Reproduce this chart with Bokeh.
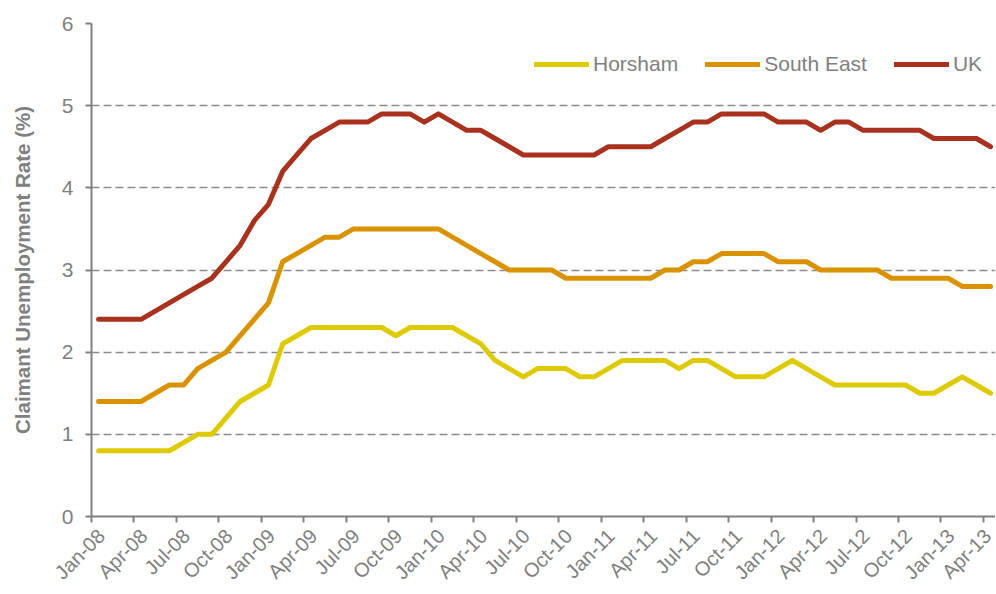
import math
from bokeh.plotting import figure
from bokeh.models import (ColumnDataSource, FixedTicker, Legend, LegendItem,
                          Range1d, LinearAxis)
from bokeh.embed import file_html
from bokeh.resources import INLINE

# ---- data (monthly, Jan-08 .. Apr-13) ----
horsham = [0.8, 0.8, 0.8, 0.8, 0.8, 0.8, 0.9, 1.0, 1.0, 1.2, 1.4, 1.5,
           1.6, 2.1, 2.2, 2.3, 2.3, 2.3, 2.3, 2.3, 2.3, 2.2, 2.3, 2.3,
           2.3, 2.3, 2.2, 2.1, 1.9, 1.8, 1.7, 1.8, 1.8, 1.8, 1.7, 1.7,
           1.8, 1.9, 1.9, 1.9, 1.9, 1.8, 1.9, 1.9, 1.8, 1.7, 1.7, 1.7,
           1.8, 1.9, 1.8, 1.7, 1.6, 1.6, 1.6, 1.6, 1.6, 1.6, 1.5, 1.5,
           1.6, 1.7, 1.6, 1.5]
south_east = [1.4, 1.4, 1.4, 1.4, 1.5, 1.6, 1.6, 1.8, 1.9, 2.0, 2.2, 2.4,
              2.6, 3.1, 3.2, 3.3, 3.4, 3.4, 3.5, 3.5, 3.5, 3.5, 3.5, 3.5,
              3.5, 3.4, 3.3, 3.2, 3.1, 3.0, 3.0, 3.0, 3.0, 2.9, 2.9, 2.9,
              2.9, 2.9, 2.9, 2.9, 3.0, 3.0, 3.1, 3.1, 3.2, 3.2, 3.2, 3.2,
              3.1, 3.1, 3.1, 3.0, 3.0, 3.0, 3.0, 3.0, 2.9, 2.9, 2.9, 2.9,
              2.9, 2.8, 2.8, 2.8]
uk = [2.4, 2.4, 2.4, 2.4, 2.5, 2.6, 2.7, 2.8, 2.9, 3.1, 3.3, 3.6,
      3.8, 4.2, 4.4, 4.6, 4.7, 4.8, 4.8, 4.8, 4.9, 4.9, 4.9, 4.8,
      4.9, 4.8, 4.7, 4.7, 4.6, 4.5, 4.4, 4.4, 4.4, 4.4, 4.4, 4.4,
      4.5, 4.5, 4.5, 4.5, 4.6, 4.7, 4.8, 4.8, 4.9, 4.9, 4.9, 4.9,
      4.8, 4.8, 4.8, 4.7, 4.8, 4.8, 4.7, 4.7, 4.7, 4.7, 4.7, 4.6,
      4.6, 4.6, 4.6, 4.5]
tick_labels = ["Jan-08", "Apr-08", "Jul-08", "Oct-08", "Jan-09", "Apr-09",
               "Jul-09", "Oct-09", "Jan-10", "Apr-10", "Jul-10", "Oct-10",
               "Jan-11", "Apr-11", "Jul-11", "Oct-11", "Jan-12", "Apr-12",
               "Jul-12", "Oct-12", "Jan-13", "Apr-13"]
series_names = ["Horsham", "South East", "UK"]
y_ticks = [0, 1, 2, 3, 4, 5, 6]

colors = ["#DECA00", "#D99200", "#A9321F"]
GRAY = "#808080"
FONT = "Liberation Sans"

n = len(uk)
x = [i + 0.5 for i in range(n)]          # points centred in each month slot
tick_pos = [3 * k for k in range(len(tick_labels))]
LABEL_SHIFT = 0.7                        # rotated labels sit just right of tick
label_pos = [t + LABEL_SHIFT for t in tick_pos]

src = ColumnDataSource(dict(x=x, horsham=horsham, south_east=south_east, uk=uk))

p = figure(width=995, height=594, output_backend="svg", toolbar_location=None,
           x_range=Range1d(0, 63.85), y_range=Range1d(0, 6),
           min_border_left=91, min_border_top=23, min_border_right=0,
           min_border_bottom=60)
p.outline_line_color = None
p.background_fill_color = "white"
p.border_fill_color = "white"

renderers = []
for col, c in zip(["horsham", "south_east", "uk"], colors):
    r = p.line("x", col, source=src, line_color=c, line_width=5,
               line_cap="round", line_join="round")
    renderers.append(r)

# axes
for ax in (p.xaxis[0], p.yaxis[0]):
    ax.axis_line_color = GRAY
    ax.axis_line_width = 2
    ax.major_tick_line_color = GRAY
    ax.major_tick_line_width = 2
    ax.major_tick_in = 0
    ax.major_tick_out = 6
    ax.minor_tick_line_color = None
    ax.major_label_text_color = GRAY
    ax.major_label_text_font = FONT
    ax.major_label_text_font_size = "21px"

p.yaxis.ticker = FixedTicker(ticks=y_ticks)
p.yaxis.major_label_standoff = 12
p.yaxis.axis_label = "Claimant Unemployment Rate (%)"
p.yaxis.axis_label_text_font = FONT
p.yaxis.axis_label_text_font_style = "bold"
p.yaxis.axis_label_text_font_size = "20.5px"
p.yaxis.axis_label_text_color = GRAY
p.yaxis.axis_label_standoff = 25

# main x axis: line + ticks only
p.xaxis.ticker = FixedTicker(ticks=tick_pos)
p.xaxis.major_label_overrides = {t: "" for t in tick_pos}
p.xaxis.major_label_standoff = 0

# label-only x axis underneath
lab_axis = LinearAxis(ticker=FixedTicker(ticks=label_pos),
                      major_label_overrides={t: lab for t, lab in zip(label_pos, tick_labels)},
                      major_label_orientation=math.pi / 4,
                      major_label_standoff=10,
                      axis_line_color=None, major_tick_line_color=None,
                      minor_tick_line_color=None, major_tick_in=0,
                      major_tick_out=0, minor_tick_in=0, minor_tick_out=0,
                      major_label_text_color=GRAY, major_label_text_font=FONT,
                      major_label_text_font_size="20px")
p.add_layout(lab_axis, "below")

p.xgrid.grid_line_color = None
p.ygrid.ticker = FixedTicker(ticks=y_ticks[1:])
p.ygrid.grid_line_color = "#8C8C8C"
p.ygrid.grid_line_width = 1.6
p.ygrid.grid_line_dash = "8 4"

legend = Legend(items=[LegendItem(label=nm, renderers=[r])
                       for nm, r in zip(series_names, renderers)],
                orientation="horizontal", location=(443, 440),
                glyph_width=55, glyph_height=20, label_standoff=4,
                spacing=27, padding=0, margin=0,
                border_line_color=None, background_fill_alpha=0,
                label_text_font=FONT, label_text_font_size="21px",
                label_text_color=GRAY)
p.add_layout(legend)

open("out.html", "w").write(file_html(p, INLINE))
